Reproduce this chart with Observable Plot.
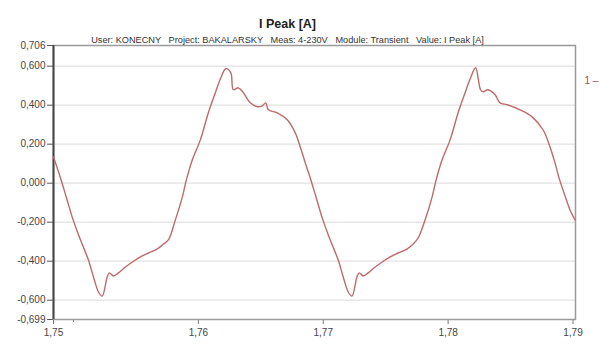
<!DOCTYPE html>
<html>
<head>
<meta charset="utf-8">
<script src="https://cdn.jsdelivr.net/npm/d3@7"></script>
<script src="https://cdn.jsdelivr.net/npm/@observablehq/plot@0.6"></script>
<style>
  html, body { margin: 0; padding: 0; background: #fff; }
</style>
</head>
<body>
<div id="chart"></div>
<script>
// Time stamps [s] of the sampled transient
const times = [
  1.7484, 1.74896, 1.74944, 1.74992, 1.7504, 1.75088, 1.7512, 1.7516, 1.752, 1.7523,
  1.7527, 1.75288, 1.7532, 1.7536, 1.75416, 1.75472, 1.75536, 1.756, 1.75672, 1.7572,
  1.7576, 1.75816, 1.75872, 1.75904, 1.75952, 1.76016, 1.7608, 1.76136, 1.7618, 1.7622,
  1.7626, 1.7628, 1.7632, 1.7636, 1.76416, 1.76472, 1.76512, 1.7654, 1.7656, 1.76632,
  1.76712, 1.76776, 1.76816, 1.76856, 1.76896, 1.76944, 1.76992, 1.7704, 1.77088, 1.7712,
  1.7716, 1.772, 1.7723,
  1.7727, 1.77288, 1.7732, 1.7736, 1.77416, 1.77472, 1.77536, 1.776, 1.77672, 1.7772,
  1.7776, 1.77816, 1.77872, 1.77904, 1.77952, 1.78016, 1.7808, 1.78136, 1.7818, 1.7822,
  1.7826, 1.7828, 1.7832, 1.78376, 1.78416, 1.78472, 1.78576, 1.78672, 1.7876, 1.78816,
  1.78856, 1.78888, 1.78936, 1.78976, 1.79016
];

// I Peak [A] at each time stamp
const current = [
  0.135, 0.027, -0.075, -0.178, -0.265, -0.342, -0.394, -0.481, -0.558, -0.579,
  -0.481, -0.460, -0.476, -0.460, -0.430, -0.404, -0.378, -0.358, -0.337, -0.312,
  -0.291, -0.188, -0.070, 0.017, 0.120, 0.222, 0.361, 0.464, 0.541, 0.587,
  0.566, 0.479, 0.489, 0.464, 0.412, 0.392, 0.397, 0.412, 0.376, 0.361,
  0.325, 0.258, 0.186, 0.104, 0.027, -0.075, -0.178, -0.265, -0.342, -0.394,
  -0.481, -0.558, -0.579,
  -0.481, -0.460, -0.476, -0.460, -0.430, -0.404, -0.378, -0.358, -0.337, -0.312,
  -0.281, -0.188, -0.070, 0.017, 0.120, 0.222, 0.361, 0.464, 0.541, 0.592,
  0.479, 0.469, 0.479, 0.453, 0.412, 0.402, 0.376, 0.340, 0.274, 0.186,
  0.104, 0.027, -0.065, -0.137, -0.188
];

// Axis ticks and their labels
const yTicks = [0.706, 0.6, 0.4, 0.2, 0, -0.2, -0.4, -0.6, -0.699];
const yTickLabels = ["0,706", "0,600", "0,400", "0,200", "0,000", "-0,200", "-0,400", "-0,600", "-0,699"];
const yGrid = [0.6, 0.4, 0.2, 0, -0.2, -0.4, -0.6];
const xTicks = [1.7484, 1.76, 1.77, 1.78, 1.79];
const xTickLabels = ["1,75", "1,76", "1,77", "1,78", "1,79"];
const xMinorTicks = [1.75];

const title = "I Peak [A]";
const subtitle = "User: KONECNY   Project: BAKALARSKY   Meas: 4-230V   Module: Transient   Value: I Peak [A]";
const seriesName = "1";

const data = times.map((t, k) => ({t, i: current[k]}));

const chart = Plot.plot({
  width: 600,
  height: 344,
  marginTop: 45,
  marginLeft: 53,
  marginRight: 25,
  marginBottom: 25,
  style: {fontFamily: "'Liberation Sans', Arial, sans-serif", fontSize: "10px", color: "#333", background: "#fff"},
  x: {domain: [1.7484, 1.7902], label: null},
  y: {domain: [-0.699, 0.706], label: null},
  marks: [
    Plot.gridY(yGrid, {stroke: "#e2e2e2", strokeOpacity: 1, strokeWidth: 1.2}),
    Plot.axisY(yTicks, {
      tickFormat: d => yTickLabels[yTicks.indexOf(d)],
      tickSize: 6, tickPadding: 2, stroke: "#555", fill: "#444", label: null
    }),
    Plot.axisX(xTicks, {
      tickFormat: d => xTickLabels[xTicks.indexOf(d)],
      tickSize: 5, tickPadding: 4, stroke: "#777", fill: "#444", label: null
    }),
    Plot.axisX(xMinorTicks, {tickSize: 3, text: null, stroke: "#777", label: null}),
    Plot.frame({stroke: "#9a9a9a", strokeWidth: 1.5}),
    Plot.ruleX([1.7484], {stroke: "#444", strokeWidth: 2}),
    Plot.line(data, {x: "t", y: "i", stroke: "#bd6a6a", strokeWidth: 1.4, curve: "catmull-rom"}),
    Plot.text([title], {frameAnchor: "top", dx: -27, dy: -26, fontWeight: "bold", fontSize: 12.5, fill: "#222"}),
    Plot.text([subtitle], {frameAnchor: "top", dx: -27, dy: -9, fontSize: 9.2, fill: "#333"}),
    Plot.text([seriesName + " \u2013"], {frameAnchor: "top-right", dx: 9, dy: 31, textAnchor: "start", fontSize: 10, fill: "#a84848"})
  ]
});

document.getElementById("chart").appendChild(chart);
</script>
</body>
</html>
